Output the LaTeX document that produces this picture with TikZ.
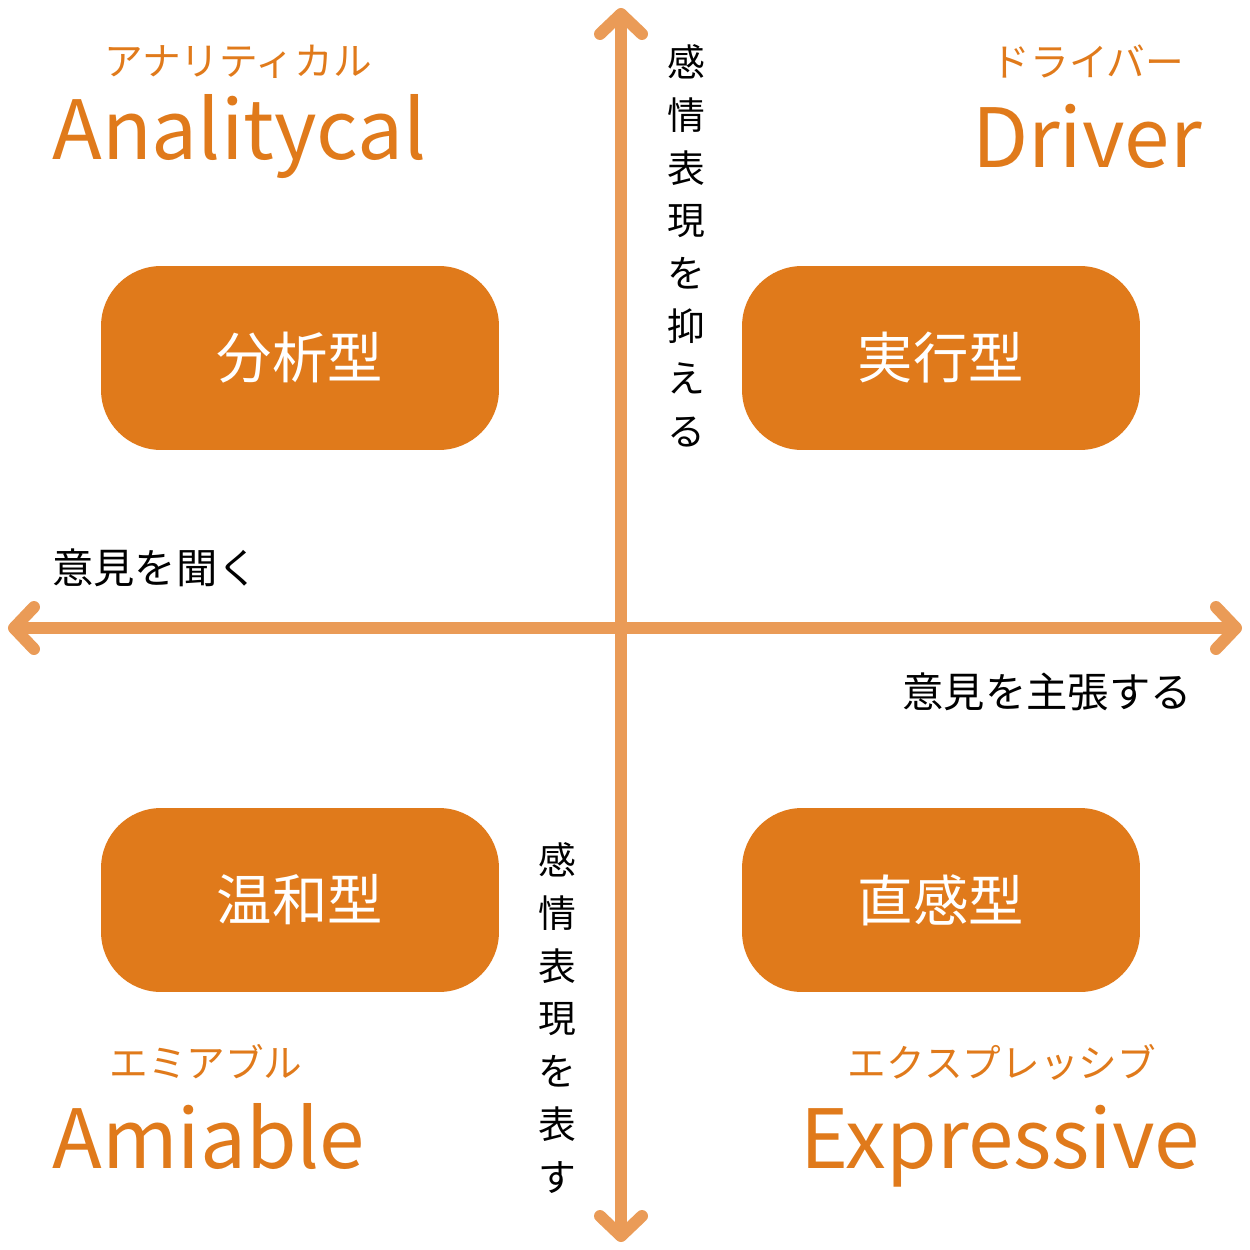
\documentclass[tikz,border=0pt]{standalone}
\usepackage{fontspec}
\setmainfont{Noto Sans CJK JP}
\usetikzlibrary{arrows.meta}
\definecolor{boxorange}{HTML}{E07A1B}
\definecolor{axisorange}{HTML}{EA9B57}
\tikzset{
  typebox/.style={fill=boxorange, rounded corners=1.2cm, minimum width=7.96cm,
    minimum height=3.68cm, text=white, font=\fontsize{31.5pt}{34pt}\selectfont},
  bigname/.style={text=boxorange, inner sep=0pt, font=\fontsize{46.5pt}{50pt}\selectfont},
  kananame/.style={text=boxorange, inner sep=0pt, font=\fontsize{22pt}{24pt}\selectfont},
  axislabel/.style={inner sep=0pt, font=\fontsize{23.5pt}{26pt}\selectfont},
  vlabel/.style={inner sep=0pt, align=center, font=\fontsize{21.5pt}{30pt}\selectfont},
  axisline/.style={line width=0.24cm, axisorange, line cap=round,
    {Straight Barb[length=0.4cm, width=0.84cm, round]}-{Straight Barb[length=0.4cm, width=0.84cm, round]}}
}
\begin{document}
\begin{tikzpicture}[x=0.02cm, y=-0.02cm]
        \useasboundingbox (0,0) rectangle (1250,1250);

        \coordinate (top) at (621,8);
        \coordinate (bottom) at (621,1242);
        \coordinate (left) at (8,628);
        \coordinate (right) at (1242,628);
        \draw[axisline] (top) -- (bottom);
        \draw[axisline] (left) -- (right);

        \node[typebox] (analytical) at (300,358) {分析型};
        \node[typebox] (driver) at (941,358) {実行型};
        \node[typebox] (amiable) at (300,900) {温和型};
        \node[typebox] (expressive) at (941,900) {直感型};

        \node[bigname, anchor=base west] (analyticalname) at (52,160) {Analitycal};
        \node[kananame] (analyticalkana) at (238,62) {アナリティカル};
        \node[bigname, anchor=base east] (drivername) at (1202,168) {Driver};
        \node[kananame] (driverkana) at (1088,62) {ドライバー};
        \node[bigname, anchor=base west] (amiablename) at (52,1168) {Amiable};
        \node[kananame] (amiablekana) at (206,1062) {エミアブル};
        \node[bigname, anchor=base east] (expressivename) at (1200,1168) {Expressive};
        \node[kananame] (expressivekana) at (1002,1062) {エクスプレッシブ};

        \node[axislabel, anchor=west] (listen) at (52,568) {意見を聞く};
        \node[axislabel, anchor=east] (assert) at (1192,692) {意見を主張する};
        \node[vlabel] (suppress) at (686,246) {感\\情\\表\\現\\を\\抑\\え\\る};
        \node[vlabel] (express) at (557,1018) {感\\情\\表\\現\\を\\表\\す};
      \end{tikzpicture}
\end{document}
